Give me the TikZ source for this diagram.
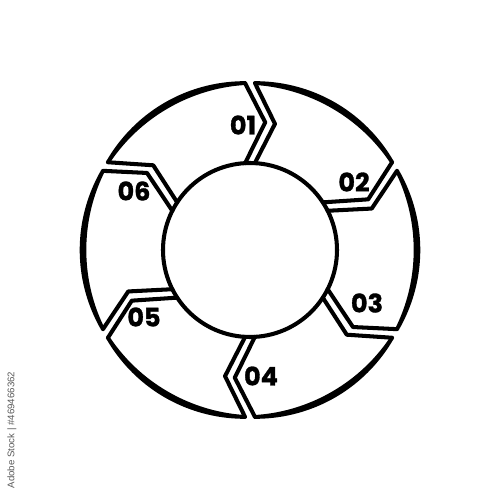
\documentclass[tikz,border=0pt]{standalone}
\usepackage{fontspec}
\newfontfamily\digfont{Poppins}[FakeBold=1.2]
\newfontfamily\wmfont{Liberation Sans}
\begin{document}
\begin{tikzpicture}[x=0.02cm,y=0.02cm,
  edge/.style={line width=2.3pt, line join=round, line cap=round},
  lab/.style={font=\digfont\fontsize{14.5}{16}\selectfont, inner sep=0pt},
  wm/.style={font=\wmfont\fontsize{5.5}{6}\selectfont, text=black!65, rotate=90, inner sep=0pt}]
\useasboundingbox (-250,-250) rectangle (250,250);
\def\R{167}\def\r{87}\def\m{128.6}
\draw[edge] (0,0) circle[radius=\r];
\foreach \a in {150,90,30,-30,-90,-150}{
  \pgfmathsetmacro\b{\a-60}
  \coordinate (so) at (\a-1.7:\R);
  \coordinate (st) at (\a-11.2:\m);
  \coordinate (si) at (\a-3.2:\r);
  \coordinate (eo) at (\b+1.7:\R);
  \coordinate (et) at (\b-6.8:\m);
  \coordinate (ei) at (\b+3.2:\r);
  \draw[edge] (so) -- (st) -- (si);
  \draw[edge] (eo) -- (et) -- (ei);
  \fill plot[domain=0:1, samples=40, variable=\x] ({\a-1.7-56.6*\x}:{\R-(1.3+2*sin(180*(0.1+0.8*\x)))})
     -- plot[domain=0:1, samples=40, variable=\x] ({\b+1.7+56.6*\x}:{\R+(1.3+2*sin(180*(0.1+0.8*(1-\x))))}) -- cycle;
}
\node[lab] (l01) at (-7,125) {\bfseries 01};
\node[lab] (l02) at (104,68) {\bfseries 02};
\node[lab] (l03) at (117,-53) {\bfseries 03};
\node[lab] (l04) at (11,-126) {\bfseries 04};
\node[lab] (l05) at (-106,-67) {\bfseries 05};
\node[lab] (l06) at (-116,59) {\bfseries 06};
\node[wm] (wmark) at (-238,-180) {Adobe Stock | \#469466362};
\end{tikzpicture}
\end{document}
